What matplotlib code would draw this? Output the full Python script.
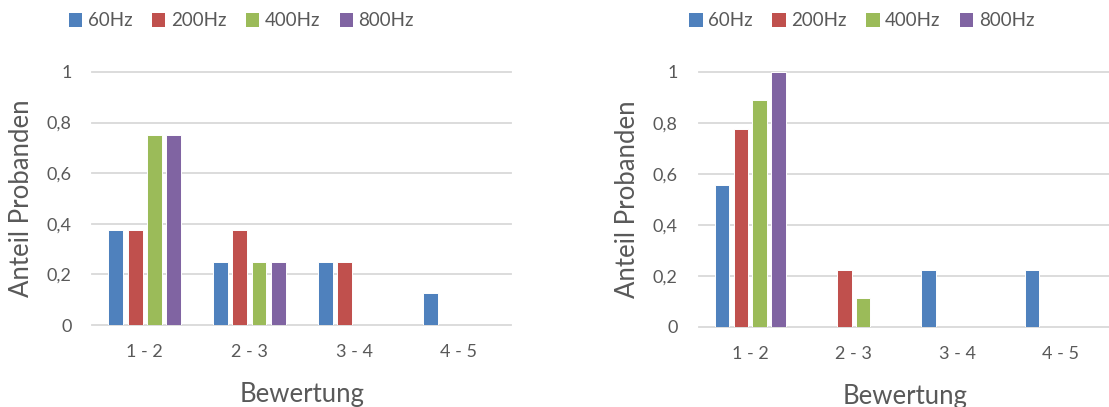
import matplotlib
matplotlib.use("Agg")
import matplotlib.pyplot as plt
from matplotlib.patches import Patch
import numpy as np

plt.rcParams['font.family'] = ['Lato', 'DejaVu Sans']

categories = ["1 - 2", "2 - 3", "3 - 4", "4 - 5"]
series_names = ["60Hz", "200Hz", "400Hz", "800Hz"]
colors = ["#4F81BD", "#C0504D", "#9BBB59", "#8064A2"]

# Left panel: share of participants per rating band
left_60 = [0.375, 0.25, 0.25, 0.125]
left_200 = [0.375, 0.375, 0.25, 0.0]
left_400 = [0.75, 0.25, 0.0, 0.0]
left_800 = [0.75, 0.25, 0.0, 0.0]

# Right panel
right_60 = [0.556, 0.0, 0.222, 0.222]
right_200 = [0.778, 0.222, 0.0, 0.0]
right_400 = [0.889, 0.111, 0.0, 0.0]
right_800 = [1.0, 0.0, 0.0, 0.0]

yticks = [0, 0.2, 0.4, 0.6, 0.8, 1.0]
ytick_labels = ["0", "0,2", "0,4", "0,6", "0,8", "1"]

TEXT = "#595959"
GRID = "#D9D9D9"
W, H = 1109, 407

fig = plt.figure(figsize=(W / 100, H / 100), dpi=100)


def px_axes(x0, x1, ytop, ybot):
    return fig.add_axes([x0 / W, (H - ybot) / H, (x1 - x0) / W, (ybot - ytop) / H])


def draw_panel(ax, data, ylabel_x):
    x = np.arange(len(categories))
    step = 0.183
    for i, vals in enumerate(data):
        ax.bar(x + (i - 1.5) * step, vals, width=0.142, color=colors[i],
               edgecolor="white", linewidth=0.7, zorder=3)
    for yv in yticks:
        ax.axhline(yv, color=GRID, lw=1.3, zorder=1, clip_on=False)
    ax.set_xlim(-0.5, len(categories) - 0.5)
    ax.set_ylim(0, 1)
    ax.set_yticks(yticks)
    ax.set_yticklabels(ytick_labels)
    ax.set_xticks(x)
    ax.set_xticklabels(categories)
    ax.tick_params(axis="y", length=0, pad=15, labelsize=13, labelcolor=TEXT)
    ax.tick_params(axis="x", length=0, pad=14, labelsize=13, labelcolor=TEXT)
    for s in ax.spines.values():
        s.set_visible(False)
    ax.set_ylabel("Anteil Probanden", fontsize=18.5, color=TEXT, va="center")
    ax.yaxis.set_label_coords(ylabel_x, 0.5)
    ax.set_xlabel("Bewertung", fontsize=18.5, color=TEXT, labelpad=15.5)


ax1 = px_axes(92.3, 511.3, 72, 325)
draw_panel(ax1, [left_60, left_200, left_400, left_800], -0.168)

ax2 = px_axes(698.7, 1112, 72, 326.7)
draw_panel(ax2, [right_60, right_200, right_400, right_800], -0.173)

handles = [Patch(facecolor=c, edgecolor="none") for c in colors]
for cx in (241.5 / W, 862 / W):
    leg = fig.legend(handles, series_names, loc="center", bbox_to_anchor=(cx, 1 - 21 / H),
                     ncol=4, frameon=False, fontsize=13.5, handlelength=0.7,
                     handleheight=0.7, handletextpad=0.3, columnspacing=1.05,
                     borderaxespad=0, borderpad=0)
    for t in leg.get_texts():
        t.set_color(TEXT)

fig.savefig("out.png", dpi=100)
